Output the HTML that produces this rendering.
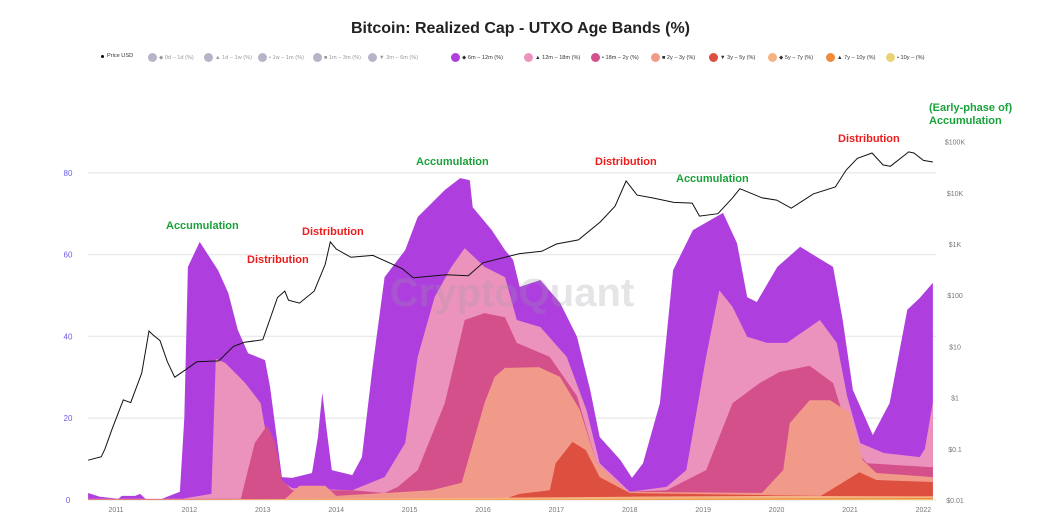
<!DOCTYPE html>
<html><head><meta charset="utf-8">
<style>
body{margin:0;background:#fff;width:1041px;height:529px;overflow:hidden;font-family:"Liberation Sans",sans-serif;}
#wrap{position:relative;width:1041px;height:529px;}
.leg{position:absolute;top:53px;font-size:5.6px;color:#999;white-space:nowrap;display:flex;align-items:center;}
.dot{display:inline-block;width:9px;height:9px;border-radius:50%;margin-right:2px;}
.ann{position:absolute;font-weight:bold;font-size:11px;line-height:13px;}
</style></head><body>
<div id="wrap">
<div style="position:absolute;top:20px;left:0;width:1041px;text-align:center;font-weight:bold;font-size:16px;color:#222;">Bitcoin: Realized Cap - UTXO Age Bands (%)</div>
<div class="leg" style="left:101px;color:#333;"><span style="display:inline-block;width:3px;height:3px;border-radius:50%;background:#000;margin-right:3px"></span>Price USD</div>
<div class="leg" style="left:148px;"><span class="dot" style="background:#b9b3c8"></span>◆ 0d – 1d (%)</div>
<div class="leg" style="left:204px;"><span class="dot" style="background:#b9b3c8"></span>▲ 1d – 1w (%)</div>
<div class="leg" style="left:258px;"><span class="dot" style="background:#b9b3c8"></span>• 1w – 1m (%)</div>
<div class="leg" style="left:313px;"><span class="dot" style="background:#b9b3c8"></span>■ 1m – 3m (%)</div>
<div class="leg" style="left:368px;"><span class="dot" style="background:#b9b3c8"></span>▼ 3m – 6m (%)</div>
<div class="leg" style="left:451px;color:#333;"><span class="dot" style="background:#ae3fde"></span>◆ 6m – 12m (%)</div>
<div class="leg" style="left:524px;color:#333;"><span class="dot" style="background:#ec93bd"></span>▲ 12m – 18m (%)</div>
<div class="leg" style="left:591px;color:#333;"><span class="dot" style="background:#d4508a"></span>• 18m – 2y (%)</div>
<div class="leg" style="left:651px;color:#333;"><span class="dot" style="background:#f29a8a"></span>■ 2y – 3y (%)</div>
<div class="leg" style="left:709px;color:#333;"><span class="dot" style="background:#dd5040"></span>▼ 3y – 5y (%)</div>
<div class="leg" style="left:768px;color:#333;"><span class="dot" style="background:#f5b383"></span>◆ 5y – 7y (%)</div>
<div class="leg" style="left:826px;color:#333;"><span class="dot" style="background:#ef8b3a"></span>▲ 7y – 10y (%)</div>
<div class="leg" style="left:886px;color:#333;"><span class="dot" style="background:#e9d27a"></span>• 10y – (%)</div>

<svg id="chart" width="1041" height="529" style="position:absolute;left:0;top:0;font-family:'Liberation Sans',sans-serif"></svg>

<div class="ann" style="left:166px;top:220px;color:#1aa23a">Accumulation</div>
<div class="ann" style="left:247px;top:254px;color:#ee1c1c">Distribution</div>
<div class="ann" style="left:302px;top:226px;color:#ee1c1c">Distribution</div>
<div class="ann" style="left:416px;top:156px;color:#1aa23a">Accumulation</div>
<div class="ann" style="left:595px;top:156px;color:#ee1c1c">Distribution</div>
<div class="ann" style="left:676px;top:173px;color:#1aa23a">Accumulation</div>
<div class="ann" style="left:838px;top:133px;color:#ee1c1c">Distribution</div>
<div class="ann" style="left:929px;top:102px;color:#1aa23a">(Early-phase of)<br>Accumulation</div>
</div>
<script>
// ---- data (stacked cumulative % tops per band, decimal-year dates) ----
const d6m12m=[2010.62,2010.78,2011.03,2011.08,2011.26,2011.33,2011.40,2011.60,2011.67,2011.87,2011.93,2011.98,2012.14,2012.39,2012.53,2012.66,2012.80,2013.03,2013.10,2013.26,2013.40,2013.67,2013.75,2013.81,2013.87,2013.94,2014.22,2014.35,2014.49,2014.66,2014.94,2015.11,2015.48,2015.69,2015.82,2015.86,2016.12,2016.30,2016.41,2016.50,2016.78,2017.05,2017.28,2017.46,2017.59,2017.87,2018.03,2018.18,2018.41,2018.59,2018.86,2019.27,2019.46,2019.60,2019.73,2020.01,2020.32,2020.77,2020.90,2021.04,2021.31,2021.54,2021.78,2021.95,2022.13];
const v6m12m=[1.7,0.8,0.3,1.0,1.0,1.5,0.3,0.1,0.6,2.0,20,57,63.1,56.2,50.6,41.6,35.9,34.2,27.6,5.6,5.4,6.6,15.4,26.2,17.1,7.3,6.1,10.5,31.8,54.5,61.1,69.2,75.8,78.7,78.2,71.6,66.0,61.1,58.7,52.1,53.8,48.2,39.9,26.9,15.4,9.8,5.4,9.0,23.7,56.2,66.0,70.2,62.8,49.6,48.4,57.0,61.9,57.0,44.0,26.9,15.9,23.7,46.5,49.4,53.1];
const d12m18m=[2010.62,2011.9,2012.30,2012.36,2012.49,2012.76,2012.97,2013.10,2013.18,2013.40,2014.22,2014.66,2014.94,2015.11,2015.34,2015.57,2015.75,2016.02,2016.30,2016.46,2016.78,2017.14,2017.41,2017.59,2018.00,2018.50,2018.77,2019.04,2019.22,2019.40,2019.60,2019.87,2020.14,2020.59,2020.82,2020.96,2021.14,2021.46,2021.95,2022.02,2022.13];
const v12m18m=[0.3,0.3,1.5,34.5,33.5,28.6,23.7,10.5,5.4,2.9,2.4,5.6,13.9,35.0,49.6,57.0,61.6,57.0,54.5,44.0,42.3,35.0,22.0,9.0,2.0,3.2,7.3,35.0,51.3,47.2,39.9,38.4,38.4,44.0,38.4,25.4,13.9,11.5,10.5,12.5,24.0];
const d18m2y=[2010.62,2012.70,2012.89,2013.06,2013.17,2013.26,2013.40,2014.22,2014.66,2014.84,2015.11,2015.48,2015.75,2016.02,2016.30,2016.46,2016.91,2017.28,2017.55,2017.96,2018.50,2019.04,2019.40,2019.77,2020.04,2020.45,2020.77,2021.04,2021.23,2022.13];
const v18m2y=[0.2,0.3,13.9,18.3,13.9,4.9,2.4,2.4,1.7,3.2,7.3,23.7,44.0,45.7,44.7,38.4,35.0,25.4,9.0,2.0,2.4,7.3,23.7,28.6,31.3,32.8,28.6,13.0,9.0,8.0];
const d2y3y=[2010.62,2013.30,2013.50,2013.85,2014.00,2015.30,2015.71,2016.02,2016.16,2016.30,2016.76,2017.05,2017.32,2017.55,2017.96,2019.80,2020.09,2020.18,2020.45,2020.73,2020.99,2021.17,2021.36,2022.13];
const v2y3y=[0.1,0.2,3.5,3.5,1.0,2.4,4.2,23.7,30.1,32.3,32.5,30.1,22.0,9.0,2.0,1.7,7.3,18.8,24.4,24.4,21.3,9.8,6.6,5.6];
const d3y5y=[2010.62,2016.30,2016.50,2016.91,2016.99,2017.22,2017.40,2017.59,2018.00,2020.60,2020.73,2021.13,2021.36,2022.13];
const v3y5y=[0.1,0.3,1.5,2.4,9.0,14.2,12.2,5.6,1.7,1.0,2.4,6.8,4.9,4.4];
const d5y7y=[2010.62,2014.0,2018.0,2020.0,2022.13];
const v5y7y=[0.05,0.3,0.8,1.0,0.9];
const d7y10y=[2010.62,2017.0,2020.0,2022.13];
const v7y10y=[0.0,0.2,0.4,0.5];
const d10y=[2010.62,2020.0,2022.13];
const v10y=[0.0,0.1,0.2];
const priceDates=[2010.62,2010.8,2010.85,2010.95,2011.1,2011.2,2011.35,2011.45,2011.5,2011.6,2011.7,2011.8,2011.95,2012.1,2012.4,2012.6,2012.75,2013.0,2013.2,2013.3,2013.35,2013.5,2013.7,2013.85,2013.92,2014.0,2014.2,2014.5,2014.9,2015.05,2015.5,2015.8,2016.0,2016.5,2016.8,2017.0,2017.3,2017.6,2017.8,2017.95,2018.1,2018.3,2018.6,2018.85,2018.95,2019.2,2019.4,2019.5,2019.8,2020.0,2020.2,2020.5,2020.8,2020.95,2021.1,2021.3,2021.45,2021.55,2021.8,2021.87,2022.0,2022.13];
const priceUSD=[0.06,0.07,0.1,0.25,0.9,0.8,3,20,17,13,5,2.5,3.5,5,5.2,10,12,13.5,90,120,80,70,120,400,1100,800,550,600,330,220,250,240,430,650,720,1000,1200,2700,5500,17000,9000,8000,6500,6300,3500,3900,8000,12000,8000,7200,5000,9500,13000,28000,47000,60000,35000,33000,63000,60000,43000,40000];
const yearTicks=[2011,2012,2013,2014,2015,2016,2017,2018,2019,2020,2021,2022];
const pctTicks=[0,20,40,60,80];
const priceTicks=[0.01,0.1,1,10,100,1000,10000,100000];
const priceTickLabels=["$0.01","$0.1","$1","$10","$100","$1K","$10K","$100K"];

// ---- scales ----
const X0=88,X1=936,Y0=500;
const xS=t=>116+(t-2011)*73.4;
const yS=v=>Y0-v*4.09;
const yP=p=>Y0-51.2*(Math.log10(p)+2);
const svg=document.getElementById('chart');
const NS='http://www.w3.org/2000/svg';
function mk(tag,attrs){const e=document.createElementNS(NS,tag);for(const k in attrs)e.setAttribute(k,attrs[k]);svg.appendChild(e);return e;}

pctTicks.forEach(v=>{
  const g=mk('line',{x1:X0,x2:X1,y1:yS(v),y2:yS(v),stroke:'#ebebeb','stroke-width':1.5});
  
  
  const t=mk('text',{x:68,y:yS(v)+3,'font-size':8,fill:'#6b5ce7','text-anchor':'middle'});
  t.textContent=v;
  
  
});
priceTicks.forEach((p,i)=>{
  const t=mk('text',{x:955,y:yP(p)+3,'font-size':7,fill:'#777','text-anchor':'middle'});
  t.textContent=priceTickLabels[i];
  
  
});
yearTicks.forEach(y=>{
  const t=mk('text',{x:xS(y),y:512,'font-size':7,fill:'#777','text-anchor':'middle'});
  t.textContent=y;
  
  
});

const bands=[
 ['band-6m-12m',d6m12m,v6m12m,'#ae3fde'],
 ['band-12m-18m',d12m18m,v12m18m,'#ec93bd'],
 ['band-18m-2y',d18m2y,v18m2y,'#d4508a'],
 ['band-2y-3y',d2y3y,v2y3y,'#f29a8a'],
 ['band-3y-5y',d3y5y,v3y5y,'#dd5040'],
 ['band-5y-7y',d5y7y,v5y7y,'#f5b383'],
 ['band-7y-10y',d7y10y,v7y10y,'#ef8b3a'],
 ['band-10y',d10y,v10y,'#e9d27a']];
bands.forEach(b=>{
  const [name,ds,vs,col]=b;
  let p='M'+xS(ds[0]).toFixed(1)+','+Y0;
  ds.forEach((d,i)=>{p+=' L'+xS(d).toFixed(1)+','+yS(vs[i]).toFixed(1);});
  p+=' L'+xS(ds[ds.length-1]).toFixed(1)+','+Y0+' Z';
  const e=mk('path',{d:p,fill:col});
  
  
});

// watermark over areas
const wm=mk('text',{x:512,y:306,'font-size':40,fill:'rgba(150,150,165,0.25)','text-anchor':'middle','font-weight':'bold'});
wm.textContent='CryptoQuant';



let pp='';
priceDates.forEach((d,i)=>{pp+=(i?' L':'M')+xS(d).toFixed(1)+','+yP(priceUSD[i]).toFixed(1);});
const pl=mk('path',{d:pp,fill:'none',stroke:'#111','stroke-width':1});


</script>
</body></html>
